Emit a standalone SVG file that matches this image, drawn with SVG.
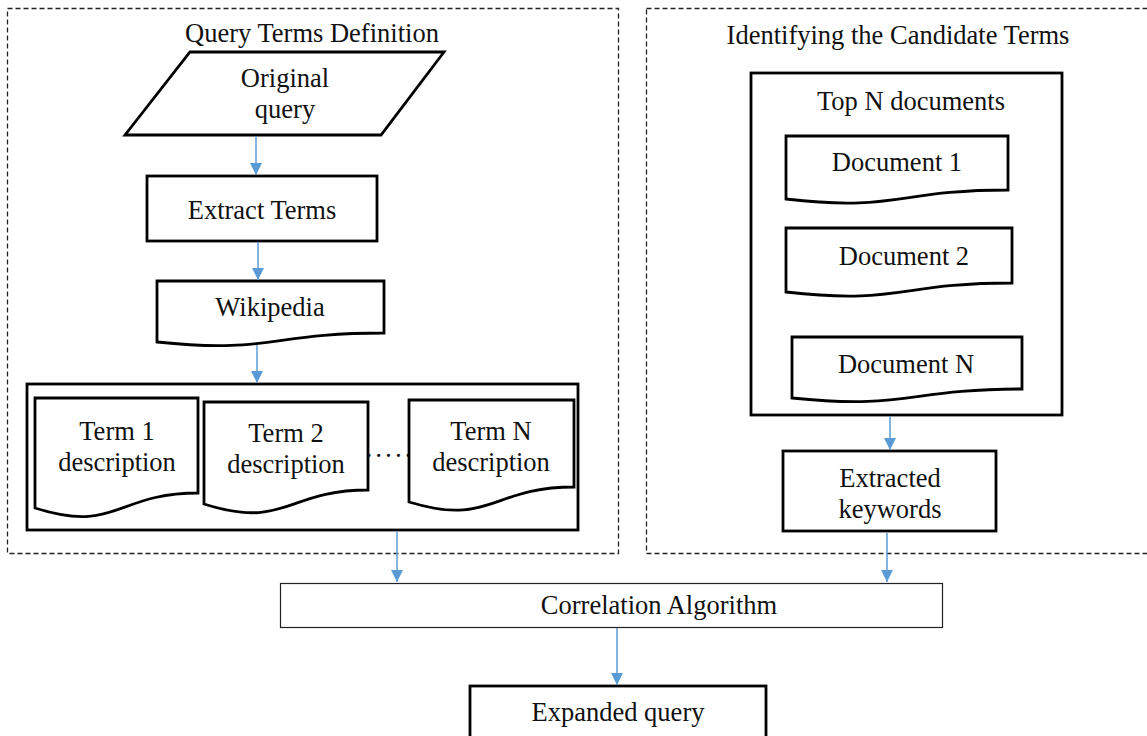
<svg xmlns="http://www.w3.org/2000/svg" width="1147" height="736" viewBox="0 0 1147 736">
<defs>
<style>
.dash{fill:none;stroke:#222;stroke-width:1.3;stroke-dasharray:5,3}
.node{fill:#fff;stroke:#000;stroke-width:2.8}
.thin{fill:#fff;stroke:#222;stroke-width:1.2}
.t{font-family:"Liberation Serif","Times New Roman",serif;font-size:26.5px;fill:#111;text-anchor:middle}
.c{fill:none;stroke:#5B9BD5;stroke-width:1.5}
</style>
<marker id="ah" viewBox="0 0 12 12" refX="12" refY="6" markerWidth="12" markerHeight="12" markerUnits="userSpaceOnUse" orient="auto">
<path d="M0,0 L12,6 L0,12 Z" fill="#5B9BD5"/>
</marker>
</defs>
<rect width="1147" height="736" fill="#fff"/>

<g id="panel-left">
<rect class="dash" x="7.5" y="8.5" width="611" height="545"/>
<text class="t" x="312" y="42">Query Terms Definition</text>
</g>
<g id="panel-right">
<rect class="dash" x="646.5" y="8.5" width="510" height="545"/>
<text class="t" x="898" y="44">Identifying the Candidate Terms</text>
</g>

<g id="original-query">
<polygon class="node" points="190,52 444,52 381,135 125,135"/>
<text class="t" x="285" y="87">Original</text>
<text class="t" x="285" y="118">query</text>
</g>

<g id="extract-terms">
<rect class="node" x="147" y="176" width="230" height="65"/>
<text class="t" x="262" y="219">Extract Terms</text>
</g>

<g id="wikipedia">
<path class="node" d="M157,281 H384 V333 C270,333 270,354 157,342 Z"/>
<text class="t" x="270" y="316">Wikipedia</text>
</g>

<g id="term-container">
<rect class="node" x="27" y="384" width="551" height="146"/>
</g>

<g id="term1">
<path class="node" d="M35,398 H198 V493 C116,493 116,534 35,508 Z"/>
<text class="t" x="117" y="440">Term 1</text>
<text class="t" x="117" y="471">description</text>
</g>
<g id="term2">
<path class="node" d="M204,402 H368 V490 C286,490 286,530 204,504 Z"/>
<text class="t" x="286" y="442">Term 2</text>
<text class="t" x="286" y="473">description</text>
</g>
<g id="ellipsis">
<text class="t" x="389" y="465" letter-spacing="1">·····</text>
</g>
<g id="termN">
<path class="node" d="M409,400 H574 V487 C491,487 491,527 409,502 Z"/>
<text class="t" x="491" y="440">Term N</text>
<text class="t" x="491" y="471">description</text>
</g>

<g id="top-n">
<rect class="node" x="751" y="73" width="311" height="342"/>
<text class="t" x="911" y="110">Top N documents</text>
</g>
<g id="doc1">
<path class="node" d="M786,136 H1008 V190 C897,190 897,212 786,199 Z"/>
<text class="t" x="897" y="171">Document 1</text>
</g>
<g id="doc2">
<path class="node" d="M786,228 H1012 V283 C899,283 899,305 786,292 Z"/>
<text class="t" x="904" y="265">Document 2</text>
</g>
<g id="docN">
<path class="node" d="M792,337 H1022 V389 C907,389 907,410 792,398 Z"/>
<text class="t" x="906" y="373">Document N</text>
</g>

<g id="extracted-keywords">
<rect class="node" x="783" y="451" width="213" height="80"/>
<text class="t" x="890" y="487">Extracted</text>
<text class="t" x="890" y="518">keywords</text>
</g>

<g id="correlation">
<rect class="thin" x="280.5" y="583.5" width="662" height="44"/>
<text class="t" x="659" y="614">Correlation Algorithm</text>
</g>

<g id="expanded-query">
<rect class="node" x="470" y="686" width="296" height="52"/>
<text class="t" x="618" y="721">Expanded query</text>
</g>

<g id="connectors">
<line class="c" x1="256" y1="136" x2="256" y2="175" marker-end="url(#ah)"/>
<line class="c" x1="258" y1="242" x2="258" y2="280" marker-end="url(#ah)"/>
<line class="c" x1="257" y1="345" x2="257" y2="383" marker-end="url(#ah)"/>
<line class="c" x1="397" y1="531" x2="397" y2="582" marker-end="url(#ah)"/>
<line class="c" x1="890" y1="416" x2="890" y2="450" marker-end="url(#ah)"/>
<line class="c" x1="887" y1="533" x2="887" y2="582" marker-end="url(#ah)"/>
<line class="c" x1="617" y1="628" x2="617" y2="685" marker-end="url(#ah)"/>
</g>
</svg>
